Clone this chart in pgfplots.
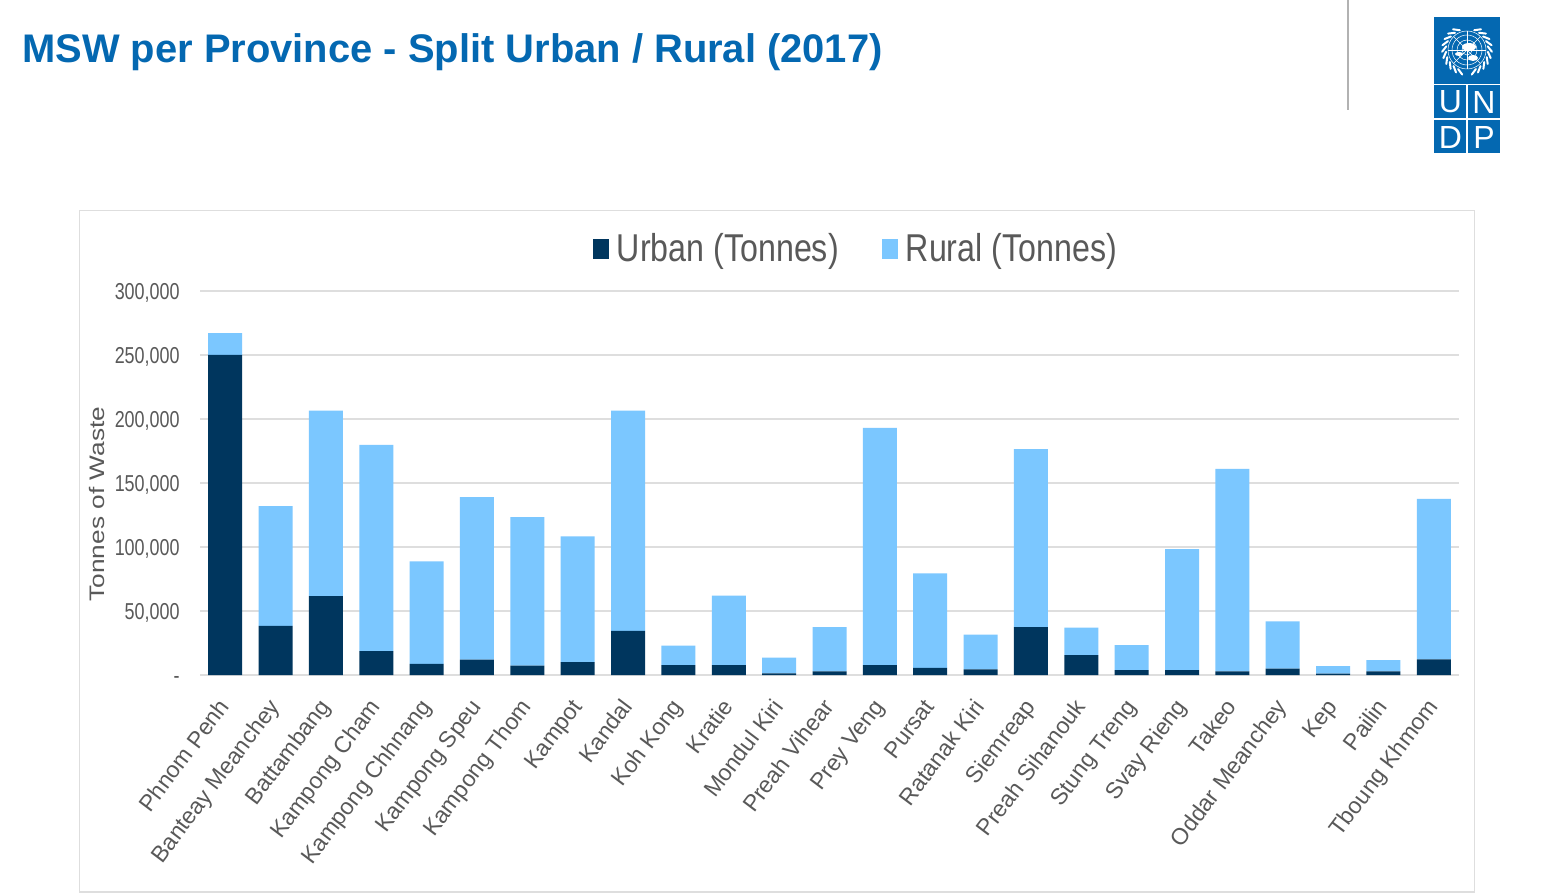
\documentclass[border=0pt]{standalone}
\usepackage{fontspec}
\setmainfont{Liberation Sans}
\newfontfamily\condfont[FakeStretch=0.83]{Liberation Sans}
\newfontfamily\tickfont[FakeStretch=0.78]{Liberation Sans}
\newfontfamily\widefont[FakeStretch=1.25]{Liberation Sans}
\usepackage{pgfplots}
\usepackage{pgfplotstable}
\pgfplotsset{compat=1.18}
\definecolor{undpblue}{HTML}{0468B1}
\definecolor{urbanc}{HTML}{00365E}
\definecolor{ruralc}{HTML}{7BC7FF}
\definecolor{gridc}{HTML}{DEDEDE}
\definecolor{txtc}{HTML}{595959}

% urban and rural tonnes, in the order of the tick labels
\pgfplotstableread{
idx urban rural
0  250000 17000
1  38300  93700
2  61700  144800
3  18700  161000
4  8600   80200
5  12000  127000
6  7300   116100
7  10000  98300
8  34400  172100
9  7800   15100
10 7800   54200
11 1200   12300
12 2900   34600
13 7800   185200
14 5500   73900
15 4400   27100
16 37500  139000
17 15600  21400
18 3900   19500
19 3900   94500
20 2900   158100
21 4900   37000
22 1000   6000
23 2900   8800
24 12300  125200
}\msw

\begin{document}
\begin{tikzpicture}
\path[use as bounding box] (0pt,0pt) rectangle (777pt,447.5pt);

% page furniture, in reference pixels
\begin{scope}[shift={(0pt,447.5pt)},x=0.5pt,y=-0.5pt]
\node[anchor=base west,inner sep=0pt,text=undpblue,font=\fontsize{19.95}{24}\selectfont\bfseries]
  at (22,63) {MSW per Province - Split Urban / Rural (2017)};
\draw[black!30,line width=1pt] (1348,0) -- (1348,110);
\draw[gridc,line width=0.6pt,fill=white] (79.5,210.5) rectangle (1474.5,892);

% logo
\fill[undpblue] (1434,17) rectangle (1500,153);
\draw[white,line width=0.35pt] (1434,84) -- (1500,84);
\draw[white,line width=0.7pt] (1434,119) -- (1500,119) (1467,85) -- (1467,153);
\foreach \l/\cx/\cy in {U/1450.5/102,N/1484/102,D/1450.5/137,P/1484/137}
  \node[text=white,inner sep=0pt,font=\fontsize{16}{16}\selectfont] at (\cx,\cy) {\l};
\begin{scope}[shift={(1467,50)}]
  \foreach \r in {5,10,15,19} \draw[white,line width=0.25pt] (0,0) circle (\r);
  \foreach \a in {0,45,...,315} \draw[white,line width=0.25pt] (0,0) -- (\a:19);
  \fill[white] (-8,4) ellipse (4 and 2);
  \fill[white] (2,-3) ellipse (7 and 4);
  \fill[white] (6,8) ellipse (5 and 3);
  \foreach \a in {-70,-55,...,75} {
    \draw[white,line width=1pt,line cap=round] (\a:21) -- (\a+14:25);
    \draw[white,line width=1pt,line cap=round] (180-\a:21) -- (166-\a:25);
  }
\end{scope}
\end{scope}

\begin{axis}[
    at={(100pt,110pt)},anchor=south west,
    scale only axis,
    width=629.5pt,height=192pt,
    ybar stacked,
    bar width=17pt,
    xmin=-0.5,xmax=24.5,
    ymin=0,ymax=300000,
    clip=false,
    scaled y ticks=false,
    axis line style={draw=none},
    tick style={draw=none},
    ymajorgrids=true,
    grid style={gridc,line width=0.6pt},
    xtick=data,
    xticklabels={Phnom Penh,Banteay Meanchey,Battambang,Kampong Cham,Kampong Chhnang,Kampong Speu,Kampong Thom,Kampot,Kandal,Koh Kong,Kratie,Mondul Kiri,Preah Vihear,Prey Veng,Pursat,Ratanak Kiri,Siemreap,Preah Sihanouk,Stung Treng,Svay Rieng,Takeo,Oddar Meanchey,Kep,Pailin,Tboung Khmom},
    xticklabel style={rotate=53,anchor=north east,font=\fontsize{11.5}{13}\selectfont,text=txtc,inner sep=0pt,xshift=-11.06pt,yshift=-2.42pt},
    ytick={0,50000,100000,150000,200000,250000,300000},
    yticklabels={-\hspace{5pt},{50,000},{100,000},{150,000},{200,000},{250,000},{300,000}},
    yticklabel style={font=\tickfont\fontsize{11.5}{13}\selectfont,text=txtc,inner sep=0pt,xshift=-10pt,yshift=-1.5pt},
    ytick pos=left,
    tick align=outside,
    major tick length=0pt,
    typeset ticklabels with strut,
    ylabel={Tonnes of Waste},
    ylabel style={at={(axis description cs:-0.0818,0.445)},anchor=center,font=\widefont\fontsize{10.5}{12}\selectfont,text=txtc,inner sep=0pt},
    legend columns=2,
    legend style={at={(axis description cs:0.5218,1.109)},anchor=center,draw=none,fill=none,
      font=\condfont\fontsize{19.4}{21}\selectfont,text=txtc,inner sep=0pt,
      /tikz/every even column/.append style={column sep=19.5pt}},
    sq/.style={legend image code/.code={\fill[##1] (0pt,-5pt) rectangle (8pt,5pt);\path (10pt,0pt);}},
]
\addplot[fill=urbanc,draw=none,sq] table[x=idx,y=urban] {\msw};
\addplot[fill=ruralc,draw=none,sq] table[x=idx,y=rural] {\msw};
\legend{Urban (Tonnes),Rural (Tonnes)}
\end{axis}
\end{tikzpicture}
\end{document}
